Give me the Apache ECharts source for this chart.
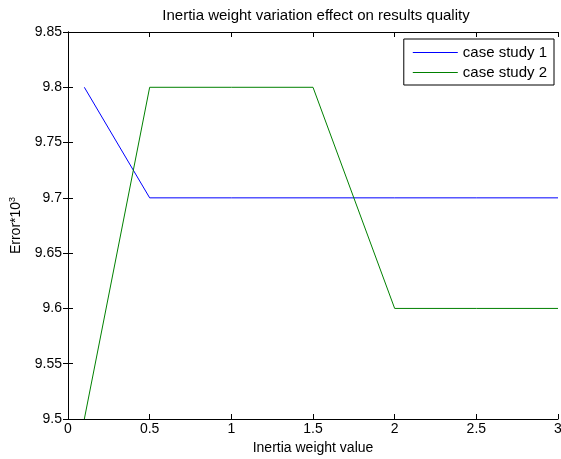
<!DOCTYPE html>
<html>
<head>
<meta charset="utf-8">
<script src="https://cdn.jsdelivr.net/npm/echarts@6/dist/echarts.min.js"></script>
<style>
  html, body { margin: 0; padding: 0; background: #fff; }
  #chart { width: 561px; height: 459px; }
</style>
</head>
<body>
<div id="chart"></div>
<script>
const xValues = [0.1, 0.5, 1, 1.5, 2, 2.5, 3];
const caseStudy1 = [9.8, 9.7, 9.7, 9.7, 9.7, 9.7, 9.7];
const caseStudy2 = [9.5, 9.8, 9.8, 9.8, 9.6, 9.6, 9.6];
const seriesNames = ['case study 1', 'case study 2'];
const seriesColors = ['#0000ff', '#008000'];

const font = 'Liberation Sans, Arial, sans-serif';
const chart = echarts.init(document.getElementById('chart'));

const pairs = vals => xValues.map((x, i) => [x, vals[i]]);

const xBase = {
  type: 'value', min: 0, max: 3, interval: 0.5,
  axisLine: { lineStyle: { color: '#000', width: 1 } },
  axisTick: { inside: true, length: 5, lineStyle: { color: '#000' } },
  splitLine: { show: false }
};
const yBase = {
  type: 'value', min: 9.5, max: 9.85, interval: 0.05,
  axisLine: { lineStyle: { color: '#000', width: 1 } },
  axisTick: { inside: true, length: 5, lineStyle: { color: '#000' } },
  splitLine: { show: false }
};

chart.setOption({
  animation: false,
  backgroundColor: '#fff',
  title: {
    text: 'Inertia weight variation effect on results quality',
    left: 311, top: 3, textAlign: 'center',
    textStyle: { fontFamily: font, fontSize: 15, fontWeight: 'normal', color: '#000' }
  },
  grid: { left: 68, right: 3, top: 32, bottom: 40, outerBoundsMode: 'none' },
  legend: {
    right: 7, top: 39,
    orient: 'vertical',
    data: seriesNames,
    icon: 'rect',
    itemWidth: 45, itemHeight: 1, itemGap: 5,
    padding: [6, 7, 5, 9],
    borderColor: '#000', borderWidth: 1, borderRadius: 0,
    backgroundColor: '#fff',
    textStyle: { fontFamily: font, fontSize: 15, color: '#000' }
  },
  xAxis: [
    Object.assign({}, xBase, {
      position: 'bottom',
      name: 'Inertia weight value',
      nameLocation: 'middle', nameGap: 21,
      nameTextStyle: { fontFamily: font, fontSize: 14, color: '#000' },
      axisLabel: {
        fontFamily: font, fontSize: 14, color: '#000', margin: 3,
        formatter: v => String(v)
      }
    }),
    Object.assign({}, xBase, { position: 'top', axisLabel: { show: false } })
  ],
  yAxis: [
    Object.assign({}, yBase, {
      position: 'left',
      name: '{a|Error*10}{s|3}',
      nameLocation: 'middle', nameGap: 44, nameRotate: 90,
      nameTextStyle: {
        rich: {
          a: { fontFamily: font, fontSize: 14, color: '#000' },
          s: { fontFamily: font, fontSize: 9, color: '#000', verticalAlign: 'top', padding: [0, 0, 7, 0] }
        }
      },
      axisLabel: {
        fontFamily: font, fontSize: 14, color: '#000', margin: 6,
        formatter: v => String(+v.toFixed(2))
      }
    }),
    Object.assign({}, yBase, { position: 'right', axisLabel: { show: false } })
  ],
  series: [
    {
      name: seriesNames[0], type: 'line', data: pairs(caseStudy1),
      symbol: 'none', color: seriesColors[0],
      lineStyle: { width: 1, color: seriesColors[0] }
    },
    {
      name: seriesNames[1], type: 'line', data: pairs(caseStudy2),
      symbol: 'none', color: seriesColors[1],
      lineStyle: { width: 1, color: seriesColors[1] }
    }
  ]
});
</script>
</body>
</html>
